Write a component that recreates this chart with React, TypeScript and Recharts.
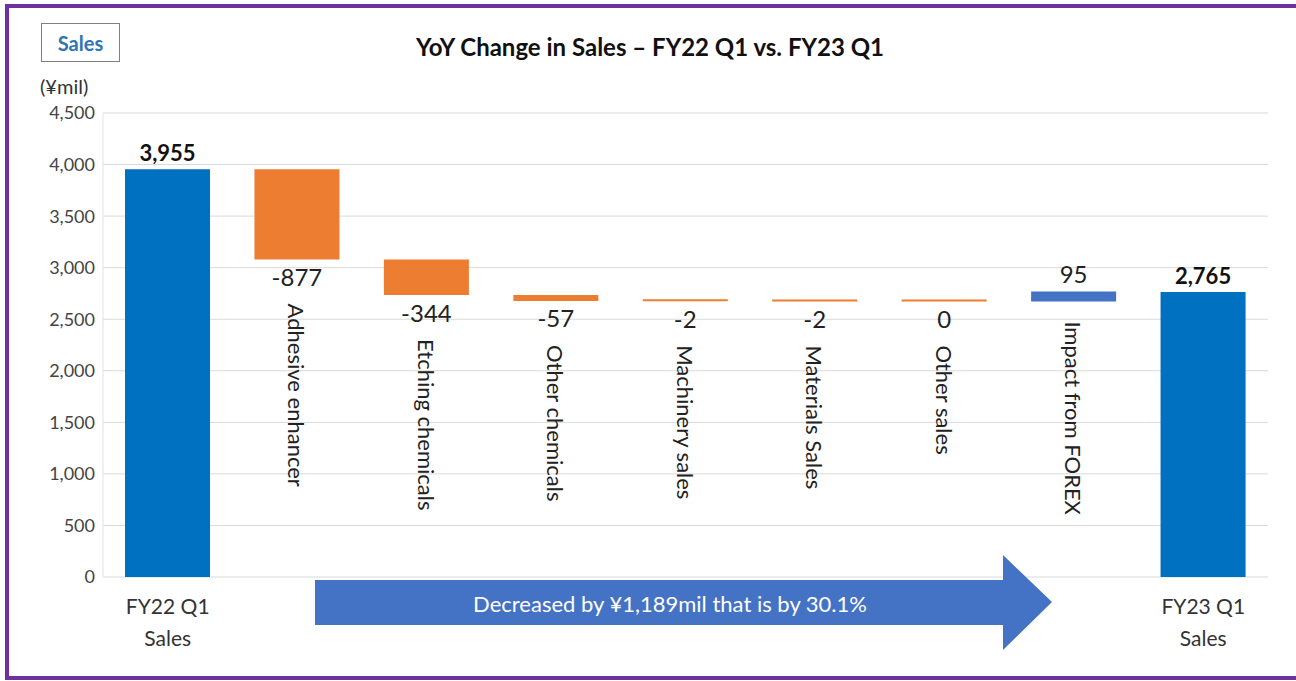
import { Bar, BarChart, CartesianGrid, Cell, LabelList, XAxis, YAxis } from "recharts";

const categories = [
  "FY22 Q1 Sales",
  "Adhesive enhancer",
  "Etching chemicals",
  "Other chemicals",
  "Machinery sales",
  "Materials Sales",
  "Other sales",
  "Impact from FOREX",
  "FY23 Q1 Sales",
];
// signed change per category; totals are flagged separately
const values = [3955, -877, -344, -57, -2, -2, 0, 95, 2765];
const isTotal = [true, false, false, false, false, false, false, false, true];
const yTicks = [0, 500, 1000, 1500, 2000, 2500, 3000, 3500, 4000, 4500];

const FONT = "Lato, 'Open Sans', sans-serif";
const TOTAL_COLOR = "#0070C0";
const DOWN_COLOR = "#ED7D31";
const UP_COLOR = "#4472C4";

// build waterfall rows: invisible base + visible step
let running = 0;
const rows = categories.map((name, i) => {
  const v = values[i];
  let base = 0;
  let size = v;
  if (isTotal[i]) {
    running = v;
  } else if (v < 0) {
    base = running + v;
    size = -v;
    running = base;
  } else {
    base = running;
    running = running + v;
  }
  return { name, base, size, value: v, total: isTotal[i] };
});

const fmt = (n: number) => n.toLocaleString("en-US");

function StepLabel(props: any) {
  const { x, y, width, height, index } = props;
  const row = rows[index];
  const cx = x + width / 2;
  const top = y;
  const bottom = y + height;
  if (row.total) {
    return (
      <text x={cx} y={top - 8} textAnchor="middle" fontFamily={FONT} fontSize={22} fontWeight={700} fill="#111">
        {fmt(row.value)}
      </text>
    );
  }
  const neg = row.value <= 0;
  const valueY = neg ? bottom + 17 : top - 18;
  const textStart = neg ? bottom + 44 : bottom + 20;
  return (
    <g>
      <text x={cx} y={valueY} textAnchor="middle" dominantBaseline="central" fontFamily={FONT} fontSize={24} fill="#222">
        {fmt(row.value)}
      </text>
      <text
        x={cx}
        y={textStart}
        transform={`rotate(90, ${cx}, ${textStart})`}
        textAnchor="start"
        dominantBaseline="central"
        fontFamily={FONT}
        fontSize={22}
        fill="#222"
      >
        {row.name}
      </text>
    </g>
  );
}

function TotalTick(props: any) {
  const { x, y, payload, index } = props;
  if (!rows[index]?.total) return null;
  const parts = String(payload.value).split(" ");
  const line1 = parts.slice(0, 2).join(" ");
  const line2 = parts.slice(2).join(" ");
  return (
    <g>
      <text x={x} y={y + 20} textAnchor="middle" dominantBaseline="central" fontFamily={FONT} fontSize={21} fill="#333">
        {line1}
      </text>
      <text x={x} y={y + 52} textAnchor="middle" dominantBaseline="central" fontFamily={FONT} fontSize={21} fill="#333">
        {line2}
      </text>
    </g>
  );
}

export default function App() {
  return (
    <div
      style={{
        position: "absolute",
        left: 0,
        top: 0,
        width: 1296,
        height: 681,
        background: "#fff",
        fontFamily: FONT,
        overflow: "hidden",
      }}
    >
      {/* frame */}
      <div style={{ position: "absolute", left: 5, top: 4, width: 1300, height: 676, border: "4px solid #7030A0", borderRight: "none", boxSizing: "border-box" }} />
      <div
        style={{
          position: "absolute",
          left: 41,
          top: 23,
          width: 79,
          height: 39,
          border: "1px solid #7f7f7f",
          boxSizing: "border-box",
          color: "#2E75B6",
          fontWeight: 700,
          fontSize: 20,
          display: "flex",
          alignItems: "center",
          justifyContent: "center",
        }}
      >
        Sales
      </div>
      <div style={{ position: "absolute", left: 0, width: 1300, top: 32, textAlign: "center", fontWeight: 700, fontSize: 24, color: "#111" }}>
        YoY Change in Sales – FY22 Q1 vs. FY23 Q1
      </div>
      <div style={{ position: "absolute", left: 40, top: 74, fontSize: 20, color: "#333" }}>(¥mil)</div>

      <BarChart
        width={1296}
        height={681}
        data={rows}
        margin={{ top: 113, right: 28, bottom: 0, left: 0 }}
        barCategoryGap="17%"
        style={{ position: "absolute", left: 0, top: 0 }}
      >
        <CartesianGrid vertical={false} stroke="#d9d9d9" />
        <XAxis dataKey="name" height={104} interval={0} axisLine={false} tickLine={false} tick={<TotalTick />} />
        <YAxis
          width={103}
          domain={[0, 4500]}
          ticks={yTicks}
          tickFormatter={fmt}
          axisLine={{ stroke: "#e3e3e3" }}
          tickLine={false}
          tick={{ fontFamily: FONT, fontSize: 18, fill: "#444" }}
        />
        <Bar dataKey="base" stackId="w" fill="transparent" isAnimationActive={false} />
        <Bar dataKey="size" stackId="w" minPointSize={2} isAnimationActive={false}>
          {rows.map((r, i) => (
            <Cell key={i} fill={r.total ? TOTAL_COLOR : r.value > 0 ? UP_COLOR : DOWN_COLOR} />
          ))}
          <LabelList dataKey="size" content={<StepLabel />} />
        </Bar>
      </BarChart>

      {/* summary arrow */}
      <svg width={1296} height={681} style={{ position: "absolute", left: 0, top: 0, pointerEvents: "none" }}>
        <polygon points="315,580 1003,580 1003,555 1052,602 1003,650 1003,625 315,625" fill="#4472C4" />
        <text x={670} y={603} textAnchor="middle" dominantBaseline="central" fontFamily={FONT} fontSize={22} fill="#fff">
          Decreased by ¥1,189mil that is by 30.1%
        </text>
      </svg>
    </div>
  );
}
